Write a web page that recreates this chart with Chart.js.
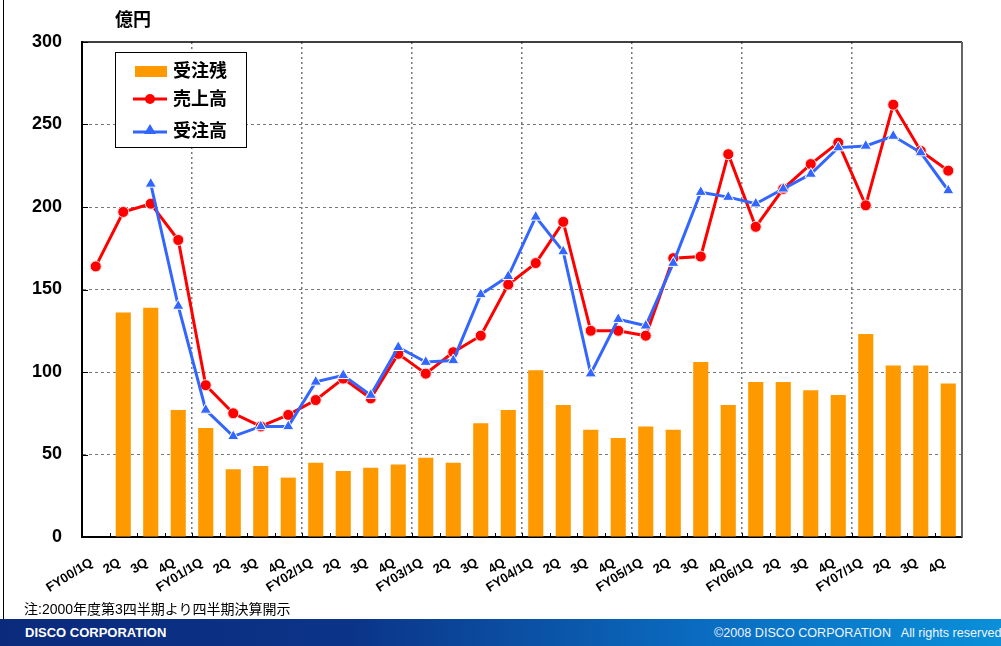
<!DOCTYPE html>
<html>
<head>
<meta charset="utf-8">
<script src="https://cdn.jsdelivr.net/npm/chart.js@4.4.0/dist/chart.umd.min.js"></script>
<style>
  html, body { margin: 0; padding: 0; background: #fff; }
  body { width: 1001px; height: 646px; position: relative; overflow: hidden;
         font-family: "Liberation Sans", Arial, "Noto Sans CJK JP", sans-serif; }
  #wrap { position: absolute; left: 0; top: 0; width: 1001px; height: 600px; }
  #frame { position: absolute; left: 3px; top: 0; width: 1px; height: 619px; background: #000; }
  #note { position: absolute; left: 24px; top: 598px; font-size: 14px; color: #000; }
  #footer { position: absolute; left: 0; top: 619px; width: 1001px; height: 27px;
            background: linear-gradient(to right, #0b2a7c 0%, #0b3488 35%, #0a6cc0 70%, #0a8fd8 100%); }
  #footer .l { position: absolute; left: 25px; top: 6px; color: #fff; font-size: 13px; font-weight: bold; }
  #footer .r { position: absolute; left: 714px; top: 7px; color: #f0f4ff; font-size: 12.6px; white-space: pre; }
</style>
</head>
<body>
<div id="frame"></div>
<div id="wrap"><canvas id="chart" width="1001" height="600"></canvas></div>
<div id="note">注:2000年度第3四半期より四半期決算開示</div>
<div id="footer"><span class="l">DISCO CORPORATION</span><span class="r">©2008 DISCO CORPORATION   All rights reserved</span></div>
<script>
// 四半期ラベル
var quarters = ['FY00/1Q','2Q','3Q','4Q','FY01/1Q','2Q','3Q','4Q','FY02/1Q','2Q','3Q','4Q',
                'FY03/1Q','2Q','3Q','4Q','FY04/1Q','2Q','3Q','4Q','FY05/1Q','2Q','3Q','4Q',
                'FY06/1Q','2Q','3Q','4Q','FY07/1Q','2Q','3Q','4Q'];
// 受注残
var backlog = [null,136,139,77,66,41,43,36,45,40,42,44,48,45,69,77,101,80,65,60,67,65,106,80,
               94,94,89,86,123,104,104,93];
// 売上高
var sales = [164,197,202,180,92,75,67,74,83,96,84,111,99,112,122,153,166,191,125,125,122,169,170,232,
             188,211,226,239,201,262,234,222];
// 受注高
var orders = [null,null,214,140,77,61,67,67,94,98,86,115,106,107,147,158,194,173,99,132,128,166,209,206,
              202,211,220,236,237,243,233,210];
var yTicks = [0,50,100,150,200,250,300];

var FONT = '"Liberation Sans", Arial, "Noto Sans CJK JP", sans-serif';
var RED = '#ff0000', BLUE = '#3366ff', ORANGE = '#ff9900';

// 枠・凡例・単位を描くプラグイン
var decor = {
  id: 'decor',
  afterDraw: function(chart) {
    var c = chart.ctx, a = chart.chartArea, ys = chart.scales.y;
    c.save();
    // 内向き目盛
    c.strokeStyle = '#000'; c.lineWidth = 1;
    var step = (a.right - a.left) / quarters.length;
    for (var i = 1; i < quarters.length; i++) {
      var bx = Math.round(a.left + i * step) + 0.5;
      c.beginPath(); c.moveTo(bx, a.bottom); c.lineTo(bx, a.bottom - 4); c.stroke();
    }
    yTicks.forEach(function(v) {
      var py = Math.round(ys.getPixelForValue(v)) + 0.5;
      c.beginPath(); c.moveTo(a.left, py); c.lineTo(a.left + 6, py); c.stroke();
    });
    // 上と右の枠
    c.strokeStyle = '#000'; c.lineWidth = 1.5;
    c.beginPath(); c.moveTo(a.left, a.top); c.lineTo(a.right, a.top); c.stroke();
    c.strokeStyle = '#666'; c.lineWidth = 2;
    c.beginPath(); c.moveTo(a.right, a.top); c.lineTo(a.right, a.bottom); c.stroke();

    // 単位
    c.fillStyle = '#000';
    c.font = 'bold 18px ' + FONT;
    c.textBaseline = 'middle'; c.textAlign = 'left';
    c.fillText('億円', 115, 21);

    // 凡例
    var lx = 115, ly = 52, lw = 131, lh = 95;
    c.fillStyle = '#fff'; c.fillRect(lx, ly, lw, lh);
    c.strokeStyle = '#000'; c.lineWidth = 1;
    c.strokeRect(lx + 0.5, ly + 0.5, lw, lh);
    c.fillStyle = ORANGE; c.fillRect(135, 66, 32, 11);
    c.lineWidth = 3;
    c.strokeStyle = RED;
    c.beginPath(); c.moveTo(133, 99); c.lineTo(167, 99); c.stroke();
    c.fillStyle = RED;
    c.beginPath(); c.arc(150, 99, 5, 0, Math.PI * 2); c.fill();
    c.strokeStyle = BLUE;
    c.beginPath(); c.moveTo(133, 132); c.lineTo(167, 132); c.stroke();
    c.fillStyle = BLUE;
    c.beginPath(); c.moveTo(150, 124); c.lineTo(156, 134); c.lineTo(144, 134); c.closePath(); c.fill();
    c.fillStyle = '#000';
    c.font = 'bold 18px ' + FONT;
    c.fillText('受注残', 173, 72);
    c.fillText('売上高', 173, 100);
    c.fillText('受注高', 173, 132);
    c.restore();
  }
};

new Chart(document.getElementById('chart').getContext('2d'), {
  type: 'bar',
  data: {
    labels: quarters,
    datasets: [
      { type: 'line', label: '受注高', data: orders, order: 0,
        borderColor: BLUE, backgroundColor: BLUE, borderWidth: 3,
        pointStyle: 'triangle', pointRadius: 6.5, pointBackgroundColor: BLUE,
        pointBorderColor: '#ffffff', pointBorderWidth: 1, tension: 0 },
      { type: 'line', label: '売上高', data: sales, order: 1,
        borderColor: RED, backgroundColor: RED, borderWidth: 3,
        pointStyle: 'circle', pointRadius: 5.5, pointBackgroundColor: RED,
        pointBorderColor: '#ffdddd', pointBorderWidth: 1, tension: 0 },
      { type: 'bar', label: '受注残', data: backlog, order: 2,
        backgroundColor: ORANGE, barPercentage: 0.55, categoryPercentage: 1.0 }
    ]
  },
  options: {
    responsive: false,
    animation: false,
    layout: { padding: { left: 0, top: 42, right: 39, bottom: 0 } },
    plugins: { legend: { display: false }, tooltip: { enabled: false } },
    scales: {
      x: {
        offset: true,
        afterFit: function(s) { s.height = 63; },
        ticks: { autoSkip: false, maxRotation: 32, minRotation: 32, padding: 18, labelOffset: -4,
                 color: '#000', font: { family: FONT, size: 13, weight: 'bold' } },
        grid: { offset: true, drawTicks: false, lineWidth: 1.5,
                color: function(ctx) { return (ctx.index > 0 && ctx.index < quarters.length && ctx.index % 4 === 0) ? '#777' : 'rgba(0,0,0,0)'; } },
        border: { display: true, color: '#000', width: 2, dash: [2, 3] }
      },
      y: {
        min: 0, max: 300,
        afterFit: function(s) { s.width = 82; },
        afterBuildTicks: function(s) { s.ticks = yTicks.map(function(v) { return { value: v }; }); },
        ticks: { padding: 20, color: '#000', font: { family: FONT, size: 18, weight: 'bold' } },
        grid: { drawTicks: false, lineWidth: 1,
                color: function(ctx) { var v = ctx.tick ? ctx.tick.value : 0; return (v === 0 || v === 300) ? 'rgba(0,0,0,0)' : '#777'; } },
        border: { display: true, color: '#000', width: 2, dash: [3, 3] }
      }
    }
  },
  plugins: [decor]
});
</script>
</body>
</html>
